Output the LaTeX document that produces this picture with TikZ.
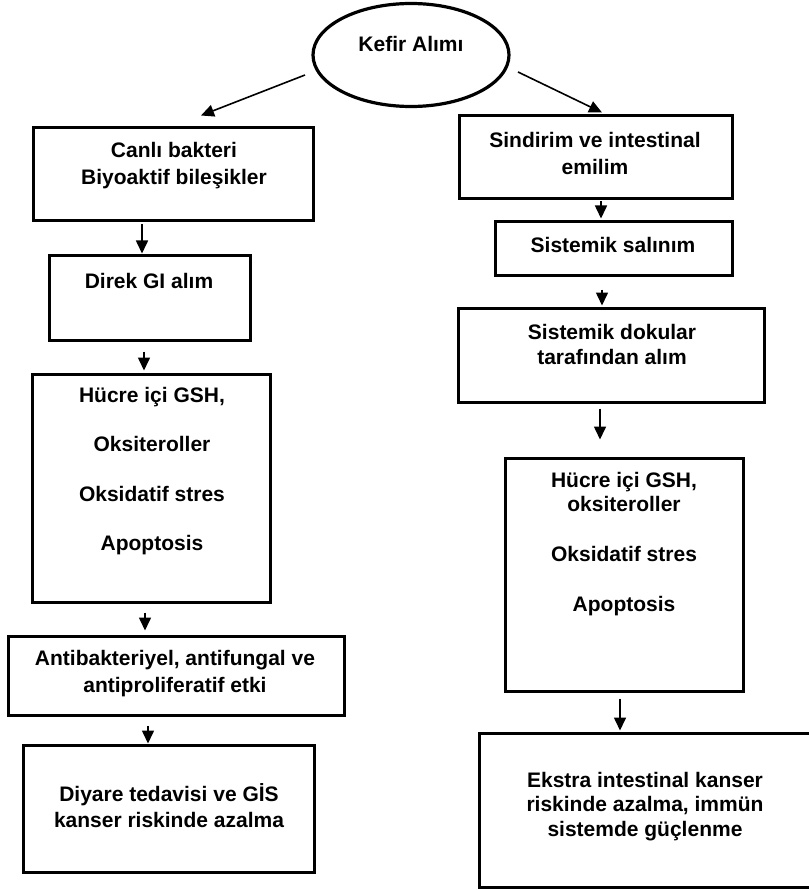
\documentclass[tikz,border=0pt]{standalone}
\usepackage{fontspec}
\setmainfont{Liberation Sans}
\usetikzlibrary{shapes.geometric,arrows.meta,calc}
\begin{document}
\begin{tikzpicture}[x=1pt,y=-1pt,
  box/.style={draw, line width=3pt, rectangle, inner sep=0pt},
  oval/.style={draw, line width=3.2pt, ellipse, inner sep=0pt},
  txt/.style={font=\bfseries\fontsize{21}{27}\selectfont, align=center, inner sep=0pt},
  arr/.style={line width=1.6pt, -{Triangle[length=13pt,width=12pt]}}]
\fill[white] (0,0) rectangle (808,890);
\useasboundingbox (0,0) rectangle (808,890);

% ellipse
\node[oval, minimum width=196pt, minimum height=103pt] (K) at (411,55) {};
\node[txt] (tK) at (411,44) {Kefir Alımı};

% left column boxes
\node[box, minimum width=280pt, minimum height=93pt] (A) at (173,174.5) {};
\node[box, minimum width=201pt, minimum height=84pt] (B) at (149.5,298) {};
\node[box, minimum width=238pt, minimum height=228pt] (C) at (151,488) {};
\node[box, minimum width=336pt, minimum height=79pt] (D) at (176,675.5) {};
\node[box, minimum width=291pt, minimum height=127pt] (E) at (168.5,808.5) {};

% right column boxes
\node[box, minimum width=273pt, minimum height=83pt] (R1) at (595.5,157.5) {};
\node[box, minimum width=237pt, minimum height=53pt] (R2) at (613.5,248.5) {};
\node[box, minimum width=306pt, minimum height=94pt] (R3) at (611,355) {};
\node[box, minimum width=238pt, minimum height=233pt] (R4) at (624,574.5) {};
\node[box, minimum width=345pt, minimum height=154pt] (R5) at (652,810) {};

% texts
\node[txt] (tA) at (174,165.5) {Canlı bakteri\\Biyoaktif bileşikler};
\node[txt] (tB) at (149,281) {Direk GI alım};
\node[txt, font=\bfseries\fontsize{21}{49.3}\selectfont] (tC) at (152,471) {Hücre içi GSH,\\Oksiteroller\\Oksidatif stres\\Apoptosis};
\node[txt] (tD) at (175,673.5) {Antibakteriyel, antifungal ve\\antiproliferatif etki};
\node[txt, font=\bfseries\fontsize{21}{26}\selectfont] (tE) at (169,806) {Diyare tedavisi ve GİS\\kanser riskinde azalma};

\node[txt] (tR1) at (595,153.5) {Sindirim ve intestinal\\emilim};
\node[txt] (tR2) at (613,245) {Sistemik salınım};
\node[txt, font=\bfseries\fontsize{21}{25}\selectfont] (tR3) at (612,344.5) {Sistemik dokular\\tarafından alım};
\node[txt, font=\bfseries\fontsize{21}{24}\selectfont] (tR4) at (624,544) {Hücre içi GSH,\\oksiteroller\\[26pt]Oksidatif stres\\[26pt]Apoptosis};
\node[txt, font=\bfseries\fontsize{21}{24.5}\selectfont] (tR5) at (645,806.5) {Ekstra intestinal kanser\\riskinde azalma, immün\\sistemde güçlenme};

% arrows
\draw[arr] ($(K.center)+(-106,20)$) -- ($(A.north)+(28,-11)$);
\draw[arr] ($(K.center)+(107,17)$) -- ($(R1.north)+(6.5,-2)$);

\draw[arr] ($(A.south)+(-31,2)$) -- ($(B.north)+(-7.5,-1)$);
\draw[arr] ($(B.south)+(-5.5,10)$) -- ($(C.north)+(-7,-2)$);
\draw[arr] ($(C.south)+(-6,9)$) -- ($(D.north)+(-31,-4)$);
\draw[arr] ($(D.south)+(-28,9)$) -- ($(E.north)+(-20.5,0)$);

\draw[arr] ($(R1.south)+(5.5,1)$) -- ($(R2.north)+(-12.5,-2)$);
\draw[arr] ($(R2.south)+(-11.5,13)$) -- ($(R3.north)+(-9,-1)$);
\draw[arr] ($(R3.south)+(-11,5)$) -- ($(R4.north)+(-24,-17)$);
\draw[arr] ($(R4.south)+(-4,6)$) -- ($(R5.north)+(-32,-1)$);
\end{tikzpicture}
\end{document}
